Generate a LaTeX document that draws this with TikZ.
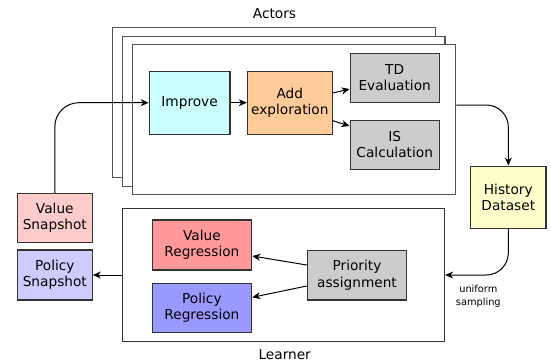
\documentclass[tikz,border=0pt]{standalone}
\usepackage{fontspec}
\setmainfont{DejaVu Sans}
\usetikzlibrary{arrows.meta,calc}
\definecolor{cimp}{HTML}{CCFFFF}
\definecolor{cadd}{HTML}{FFCC99}
\definecolor{cgray}{HTML}{CCCCCC}
\definecolor{chist}{HTML}{FFFFCC}
\definecolor{cvs}{HTML}{FFCCCC}
\definecolor{cps}{HTML}{CCCCFF}
\definecolor{cvr}{HTML}{FF9999}
\definecolor{cpr}{HTML}{9999FF}
\definecolor{cline}{HTML}{333333}
\tikzset{
  box/.style={draw=cline,line width=1.1pt,align=center,inner sep=0pt,
    font=\fontsize{13.7}{16.4}\selectfont},
  frame/.style={draw=cline!85,line width=1.2pt,fill=white},
  arr/.style={draw=black,line width=1pt,-{Stealth[length=8pt,width=7pt,inset=2.5pt]}},
  lab/.style={font=\fontsize{13.7}{16.4}\selectfont,inner sep=0pt},
}
\begin{document}
\begin{tikzpicture}[x=1pt,y=-1pt]
\useasboundingbox (0,0) rectangle (551,362);
% actors stacked frames
\draw[frame] (112.7,27.3) rectangle (435.7,177.7);
\draw[frame] (122.7,36.7) rectangle (445,186.7);
\node[frame,draw=cline!85,minimum width=323pt,minimum height=150pt,inner sep=0pt] (act) at (294.2,119.3) {};
\node[lab] (actlab) at (274.5,13.5) {Actors};
% actor content
\node[box,fill=cimp,minimum width=80.7pt,minimum height=63.3pt] (imp) at (189.6,102.7) {Improve};
\node[box,fill=cadd,minimum width=85pt,minimum height=63.3pt] (add) at (289.8,102.7) {Add\\exploration};
\node[box,fill=cgray,minimum width=89.3pt,minimum height=49pt] (td) at (394.7,77.8) {TD\\Evaluation};
\node[box,fill=cgray,minimum width=89.3pt,minimum height=49.3pt] (is) at (394.7,144.7) {IS\\Calculation};
% history
\node[box,fill=chist,minimum width=75.3pt,minimum height=62.3pt] (hist) at (508.3,197.2) {History\\Dataset};
% snapshots
\node[box,fill=cvs,minimum width=75pt,minimum height=49.4pt] (vs) at (54.8,218) {Value\\Snapshot};
\node[box,fill=cps,minimum width=75pt,minimum height=50pt] (ps) at (54.8,275) {Policy\\Snapshot};
% learner
\node[frame,draw=cline,line width=1.1pt,minimum width=322pt,minimum height=133.4pt,inner sep=0pt] (learn) at (283.6,275) {};
\node[lab] (learnlab) at (284.7,354.5) {Learner};
\node[box,fill=cvr,minimum width=99.7pt,minimum height=50pt] (vr) at (201.9,245) {Value\\Regression};
\node[box,fill=cpr,minimum width=99.7pt,minimum height=49.4pt] (pr) at (201.9,308) {Policy\\Regression};
\node[box,fill=cgray,minimum width=99.4pt,minimum height=49.3pt] (prio) at (357,275.3) {Priority\\assignment};
\node[font=\fontsize{9.8}{12.6}\selectfont,align=center,inner sep=0pt] (unif) at (478.3,296.5) {uniform\\sampling};
% connectors
\draw[arr,rounded corners=24pt] (vs.north) |- (imp.west);
\draw[arr] (imp.east) -- (add.west);
\draw[arr] ($(add.east)+(0,-9.7)$) -- ($(td.west)+(0,11.2)$);
\draw[arr] ($(add.east)+(0,18)$) -- ($(is.west)+(0,-18.7)$);
\coordinate (actout) at ($(act.east)+(0,-14.3)$);
\draw[arr,rounded corners=22pt] (actout) -| (hist.north);
\draw[arr,rounded corners=22pt] (hist.south) |- (learn.east);
\draw[arr] (learn.west) -- (ps.east);
\draw[arr] ($(prio.west)+(0,-10.3)$) -- ($(vr.east)+(0,11)$);
\draw[arr] ($(prio.west)+(0,10.7)$) -- ($(pr.east)+(0,-10.7)$);
\end{tikzpicture}
\end{document}
